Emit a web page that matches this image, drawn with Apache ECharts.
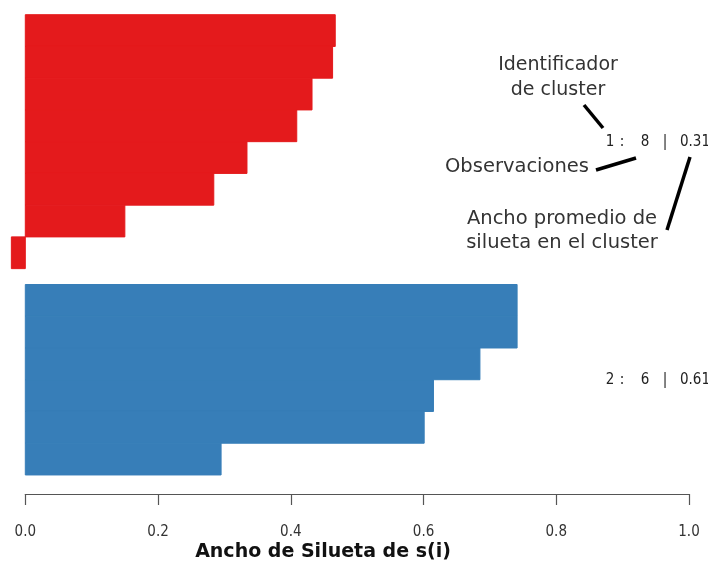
<!DOCTYPE html>
<html>
<head>
<meta charset="utf-8">
<script src="https://cdn.jsdelivr.net/npm/echarts@6/dist/echarts.min.js"></script>
<style>
  html, body { margin: 0; padding: 0; background: #ffffff; }
  #chart { width: 708px; height: 565px; }
</style>
</head>
<body>
<div id="chart"></div>
<script>
// Silhouette widths per observation, sorted within each cluster
const cluster1Widths = [0.467, 0.463, 0.432, 0.409, 0.334, 0.284, 0.150, -0.021];
const cluster2Widths = [0.741, 0.741, 0.685, 0.615, 0.601, 0.295];
const clusterColors = ['#E41A1C', '#377EB8'];
// cluster id, observation count, average width
const clusterIds = ['1', '2'];
const clusterSizes = ['8', '6'];
const clusterAverages = ['0.31', '0.61'];
const xTickValues = [0, 0.2, 0.4, 0.6, 0.8, 1.0];

// Bars stack downward; a half-bar gap separates the two clusters
const clusterGap = 0.5;
const barRows = [];
cluster1Widths.forEach(function (w, i) { barRows.push([w, i, 0]); });
const start2 = cluster1Widths.length + clusterGap;
cluster2Widths.forEach(function (w, i) { barRows.push([w, start2 + i, 1]); });

const summaryRows = [
  [1.0, cluster1Widths.length / 2, 0],
  [1.0, start2 + cluster2Widths.length / 2, 1]
];

const chart = echarts.init(document.getElementById('chart'));
const labelFont = '"DejaVu Sans Condensed", "Liberation Sans Narrow", "DejaVu Sans", sans-serif';
const noteFont = '"DejaVu Sans", sans-serif';

// "id :  n | avg" laid out as separate runs with fixed slots
const summaryRich = {
  id: { width: 12, align: 'center' },
  colon: { width: 12, align: 'center' },
  gapA: { width: 11 },
  n: { width: 12, align: 'center' },
  gapB: { width: 8 },
  bar: { width: 12, align: 'center' },
  gapC: { width: 9 },
  avg: { align: 'left' }
};
function summaryText(k) {
  return '{id|' + clusterIds[k] + '}{colon|:}{gapA| }{n|' + clusterSizes[k] +
    '}{gapB| }{bar||}{gapC| }{avg|' + clusterAverages[k] + '}';
}

chart.setOption({
  animation: false,
  backgroundColor: '#ffffff',
  grid: { left: 25.3, right: 19, top: 14.7, bottom: 71, outerBoundsMode: 'none', containLabel: false },
  xAxis: {
    type: 'value',
    min: 0,
    max: 1,
    interval: 0.2,
    splitLine: { show: false },
    axisLine: { show: true, onZero: false, lineStyle: { color: '#555555', width: 1.2 } },
    axisTick: { show: true, length: 11, lineStyle: { color: '#555555', width: 1.2 } },
    axisLabel: {
      margin: 31,
      color: '#333333',
      fontFamily: labelFont,
      fontSize: 15,
      formatter: function (v) {
        return xTickValues.indexOf(Math.round(v * 10) / 10) >= 0 ? v.toFixed(1) : '';
      }
    }
  },
  yAxis: {
    type: 'value',
    inverse: true,
    min: 0,
    max: 15.1,
    show: false
  },
  series: [
    {
      type: 'custom',
      clip: false,
      data: barRows,
      renderItem: function (params, api) {
        const w = api.value(0);
        const pos = api.value(1);
        const c = api.value(2);
        const p0 = api.coord([0, pos]);
        const p1 = api.coord([w, pos + 1]);
        return {
          type: 'rect',
          shape: {
            x: Math.min(p0[0], p1[0]),
            y: p0[1],
            width: Math.abs(p1[0] - p0[0]),
            height: p1[1] - p0[1]
          },
          style: { fill: clusterColors[c], stroke: clusterColors[c], lineWidth: 1 }
        };
      }
    },
    {
      type: 'custom',
      clip: false,
      data: summaryRows,
      renderItem: function (params, api) {
        const p = api.coord([api.value(0), api.value(1)]);
        return {
          type: 'text',
          x: p[0] - 85,
          y: p[1],
          style: {
            text: summaryText(api.value(2)),
            rich: summaryRich,
            align: 'left',
            verticalAlign: 'middle',
            fill: '#222222',
            font: '15px ' + labelFont
          }
        };
      }
    }
  ],
  graphic: [
    {
      type: 'text', x: 323, y: 552,
      style: {
        text: 'Ancho de Silueta de s(i)', align: 'center', verticalAlign: 'middle',
        fill: '#111111', font: '600 19px ' + noteFont
      }
    },
    {
      type: 'text', x: 558, y: 78,
      style: {
        text: 'Identificador\nde cluster', align: 'center', verticalAlign: 'middle',
        fill: '#333333', font: '19px ' + noteFont, lineHeight: 25
      }
    },
    {
      type: 'text', x: 517, y: 167,
      style: {
        text: 'Observaciones', align: 'center', verticalAlign: 'middle',
        fill: '#333333', font: '19.5px ' + noteFont
      }
    },
    {
      type: 'text', x: 562, y: 231,
      style: {
        text: 'Ancho promedio de\nsilueta en el cluster', align: 'center', verticalAlign: 'middle',
        fill: '#333333', font: '19.5px ' + noteFont, lineHeight: 24
      }
    },
    { type: 'line', shape: { x1: 584, y1: 105, x2: 603, y2: 128 }, style: { stroke: '#000000', lineWidth: 3.5 } },
    { type: 'line', shape: { x1: 596, y1: 170, x2: 636, y2: 158 }, style: { stroke: '#000000', lineWidth: 3.5 } },
    { type: 'line', shape: { x1: 690, y1: 157, x2: 667, y2: 230 }, style: { stroke: '#000000', lineWidth: 3.5 } }
  ]
});
</script>
</body>
</html>
